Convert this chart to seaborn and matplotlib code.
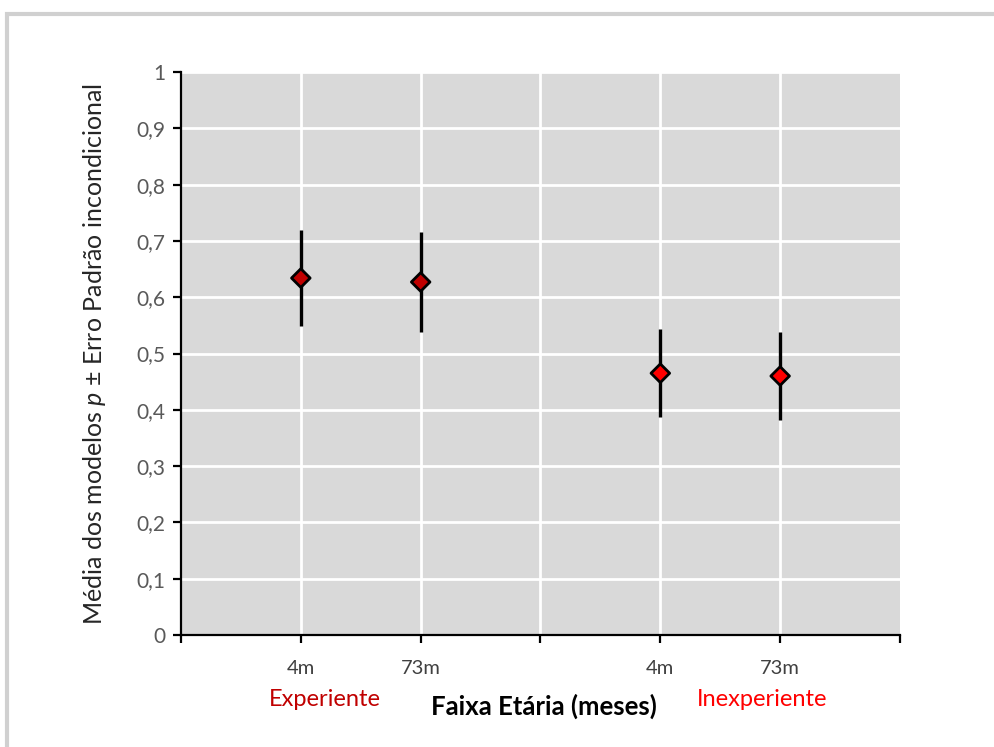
import matplotlib
matplotlib.use("Agg")
import matplotlib.pyplot as plt
import seaborn as sns
import pandas as pd
from matplotlib.patches import Rectangle

# Data
positions = [1, 2, 4, 5]
age_labels = ["4m", "73m", "4m", "73m"]
groups = ["Experiente", "Experiente", "Inexperiente", "Inexperiente"]
means = [0.634, 0.627, 0.465, 0.460]
errors = [0.085, 0.089, 0.078, 0.079]
yticks = [0, 0.1, 0.2, 0.3, 0.4, 0.5, 0.6, 0.7, 0.8, 0.9, 1.0]
ytick_labels = ["0", "0,1", "0,2", "0,3", "0,4", "0,5", "0,6", "0,7", "0,8", "0,9", "1"]

sns.set_theme(style="white")
plt.rcParams["font.family"] = ["Lato", "DejaVu Sans"]
plt.rcParams["mathtext.fontset"] = "custom"
plt.rcParams["mathtext.it"] = "Lato:italic"
plt.rcParams["mathtext.rm"] = "Lato"

df = pd.DataFrame({"pos": positions, "mean": means, "err": errors, "group": groups})

fig = plt.figure(figsize=(9.95, 7.47), dpi=100)
fig.patches.append(Rectangle((7/995, -0.1), 1.2, 1 - 14/747 + 0.1, transform=fig.transFigure,
                             fill=False, edgecolor="#D0D0D0", linewidth=3, zorder=0))
ax = fig.add_axes([181/995, (747-635)/747, (900-181)/995, (635-72)/747])
ax.set_facecolor("#D9D9D9")

ax.set_xlim(0, 6)
ax.set_ylim(0, 1)
ax.set_yticks(yticks)
ax.set_yticklabels(ytick_labels)
ax.set_xticks([0, 1, 2, 3, 4, 5, 6])
ax.set_xticklabels(["", age_labels[0], age_labels[1], "", age_labels[2], age_labels[3], ""])

ax.grid(True, which="major", color="white", linewidth=2)
xgl = ax.xaxis.get_gridlines()
xgl[0].set_visible(False)
xgl[-1].set_visible(False)
ax.set_axisbelow(True)

ax.errorbar(df["pos"], df["mean"], yerr=df["err"], fmt="none", ecolor="black",
            elinewidth=2.4, capsize=0, zorder=3)
palette = {"Experiente": "#C00000", "Inexperiente": "#FF0000"}
sns.scatterplot(data=df, x="pos", y="mean", hue="group", palette=palette, marker="D",
                s=90, edgecolor="black", linewidth=2, legend=False, ax=ax, zorder=4)
ax.set_xlabel("")
ax.set_ylabel("")

for side in ["top", "right"]:
    ax.spines[side].set_visible(False)
for side in ["left", "bottom"]:
    ax.spines[side].set_visible(True)
    ax.spines[side].set_color("black")
    ax.spines[side].set_linewidth(1.6)

ax.tick_params(axis="both", which="major", direction="out", length=6, width=1.6,
               color="black", bottom=True, left=True)
ax.tick_params(axis="y", labelsize=15, labelcolor="#595959", pad=5)
ax.tick_params(axis="x", labelsize=14.5, labelcolor="#404040", pad=12)

fig.text(95/995, 1 - 354/747, r"Média dos modelos $\mathit{p}$ ± Erro Padrão incondicional",
         rotation=90, ha="center", va="center", fontsize=18, color="#262626")
fig.text(544/995, 1 - 706/747, "Faixa Etária (meses)", ha="center", va="center",
         fontsize=18.5, fontweight="bold", color="black")
fig.text(325/995, 1 - 700/747, "Experiente", ha="center", va="center", fontsize=17, color="#C00000")
fig.text(762/995, 1 - 700/747, "Inexperiente", ha="center", va="center", fontsize=17, color="#FF0000")

fig.savefig("out.png", dpi=100)
